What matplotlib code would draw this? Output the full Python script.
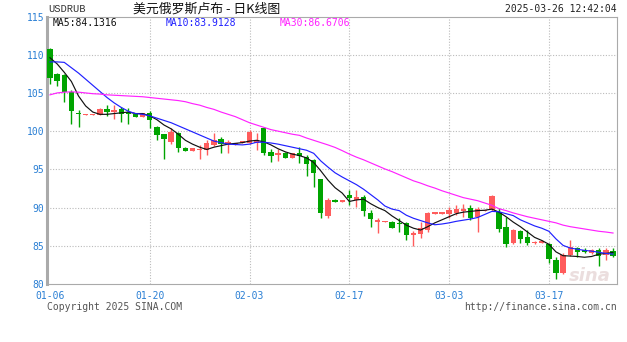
import pandas as pd
import numpy as np
import matplotlib.pyplot as plt

# Daily USD/RUB candles, 2025-01-06 .. 2025-03-26 (weekends included)
dates = pd.date_range("2025-01-06", "2025-03-26", freq="D")

opens = [110.7, 107.45, 107.3, 105.15, 102.4, 102.15, 102.15, 102.1, 102.95, 102.5,
         102.85, 102.5, 102.3, 101.85, 102.4, 100.5, 99.6, 98.6, 99.7, 97.75,
         97.45, 97.5, 97.5, 98.2, 99.0, 98.3, 98.2, 98.5, 98.5, 98.5,
         100.35, 97.3, 96.9, 97.2, 96.55, 97.2, 96.6, 96.2, 93.7, 88.9,
         91.05, 90.75, 91.7, 91.0, 91.4, 89.3, 88.15, 88.1, 88.1, 88.0,
         88.0, 86.4, 86.6, 87.05, 89.1, 89.2, 89.15, 89.3, 89.5, 90.0,
         88.8, 89.5, 89.65, 89.45, 87.4, 85.3, 86.95, 86.1, 85.3, 85.3,
         85.25, 83.2, 81.4, 83.8, 84.65, 84.5, 84.1, 84.4, 83.8, 84.35]
highs = [110.9, 107.55, 107.5, 105.35, 102.75, 102.2, 102.2, 103.0, 103.4, 103.4,
         103.2, 103.0, 102.35, 102.4, 102.6, 100.65, 99.65, 100.35, 99.9, 97.9,
         97.75, 98.2, 98.8, 99.8, 99.25, 98.8, 98.5, 98.6, 100.2, 99.8,
         100.6, 97.7, 97.7, 97.3, 97.1, 97.9, 96.9, 96.4, 93.8, 91.2,
         91.1, 91.05, 92.3, 92.3, 91.7, 89.7, 88.6, 88.3, 88.2, 88.6,
         88.15, 86.9, 88.15, 89.45, 89.45, 89.45, 90.1, 90.3, 90.5, 90.4,
         90.1, 89.7, 91.6, 89.9, 88.8, 87.2, 87.1, 87.05, 85.6, 85.7,
         85.4, 83.5, 84.0, 85.75, 84.9, 84.7, 84.6, 84.65, 84.75, 84.75]
lows = [106.2, 105.9, 103.75, 101.0, 100.55, 102.15, 102.15, 102.1, 101.95, 101.65,
        101.2, 101.0, 101.85, 101.85, 100.35, 98.8, 96.3, 98.3, 97.3, 97.4,
        97.45, 96.3, 96.9, 98.0, 97.1, 97.1, 98.2, 98.5, 98.3, 97.5,
        96.9, 96.0, 96.1, 96.5, 96.55, 95.8, 94.1, 92.7, 88.6, 88.7,
        90.75, 90.75, 90.3, 90.1, 88.9, 87.5, 86.7, 88.1, 87.3, 86.8,
        85.75, 84.95, 86.0, 86.85, 89.1, 89.2, 88.6, 89.0, 88.8, 88.4,
        86.8, 89.5, 89.6, 86.85, 84.8, 85.2, 85.3, 85.1, 85.25, 85.3,
        82.8, 80.7, 81.3, 83.65, 83.5, 84.0, 83.9, 82.4, 83.2, 83.55]
closes = [106.9, 106.6, 105.15, 102.65, 102.2, 102.2, 102.2, 102.85, 102.5, 102.75,
          102.2, 102.3, 101.85, 102.4, 101.45, 99.5, 99.0, 99.9, 97.75, 97.45,
          97.75, 97.6, 98.4, 98.8, 98.3, 98.6, 98.5, 98.6, 99.9, 98.8,
          97.2, 96.8, 97.2, 96.55, 97.1, 96.7, 95.7, 94.5, 89.3, 91.0,
          90.75, 91.05, 91.3, 91.4, 89.5, 88.45, 88.35, 88.3, 87.3, 87.8,
          86.4, 86.7, 87.3, 89.3, 89.45, 89.45, 89.65, 89.75, 89.8, 88.7,
          89.75, 89.65, 91.5, 87.15, 85.2, 87.05, 85.95, 85.4, 85.55, 85.65,
          83.25, 81.4, 83.8, 84.8, 84.2, 84.2, 84.5, 83.65, 84.5, 83.65]

# Moving averages as shown on the chart
ma5 = [109.6, 108.8, 107.7, 106.5, 104.6, 103.3, 102.5, 102.2, 102.2, 102.3,
       102.4, 102.5, 102.3, 102.3, 102.0, 101.5, 100.8, 100.3, 99.6, 98.8,
       98.3, 97.9, 97.6, 97.9, 98.1, 98.3, 98.4, 98.5, 98.7, 98.8,
       98.6, 98.2, 97.7, 97.3, 97.0, 96.8, 96.5, 95.9, 94.8, 93.6,
       92.6, 91.9, 90.8, 91.0, 91.1, 90.5, 90.0, 89.6, 88.9, 88.3,
       87.7, 87.3, 87.06, 87.5, 88.0, 88.4, 88.8, 89.2, 89.4, 89.5,
       89.6, 89.65, 89.8, 89.4, 88.8, 88.1, 87.5, 86.8, 86.1, 85.7,
       85.2, 84.2, 83.7, 83.66, 83.6, 83.5, 83.6, 83.9, 84.0, 84.1316]
ma10 = [109.06, 109.06, 109.0, 108.3, 107.6, 106.8, 106.0, 105.2, 104.4, 103.7,
        103.1, 102.6, 102.3, 102.2, 102.0, 101.7, 101.4, 101.1, 100.7, 100.3,
        99.9, 99.5, 99.1, 98.7, 98.5, 98.3, 98.25, 98.2, 98.3, 98.55,
        98.55, 98.45, 98.3, 98.1, 97.9, 97.7, 97.5, 97.1, 96.1, 95.3,
        94.55, 94.0, 93.5, 93.0, 92.4, 91.7, 91.0, 90.2, 89.8, 89.6,
        89.0, 88.6, 88.3, 88.0, 87.75, 87.85, 88.0, 88.2, 88.35, 88.5,
        88.7, 89.1, 89.5, 89.45, 89.2, 88.95, 88.4, 88.0, 87.6, 87.3,
        86.9, 85.9, 85.05, 84.7, 84.55, 84.4, 84.3, 84.15, 84.0, 83.9128]
ma30 = [104.75, 105.0, 105.1, 105.14, 105.1, 105.0, 104.9, 104.85, 104.75, 104.7,
        104.65, 104.6, 104.55, 104.5, 104.4, 104.3, 104.2, 104.1, 104.0, 103.85,
        103.6, 103.4, 103.1, 102.85, 102.5, 102.2, 101.9, 101.5, 101.1, 100.8,
        100.5, 100.2, 100.0, 99.8, 99.6, 99.45, 99.1, 98.8, 98.5, 98.2,
        97.87, 97.45, 97.0, 96.6, 96.25, 95.85, 95.45, 95.05, 94.7, 94.3,
        93.9, 93.5, 93.2, 92.85, 92.55, 92.2, 91.9, 91.6, 91.3, 91.1,
        90.9, 90.6, 90.3, 89.85, 89.6, 89.3, 89.05, 88.8, 88.6, 88.4,
        88.2, 88.0, 87.7, 87.5, 87.35, 87.2, 87.05, 86.9, 86.8, 86.6706]

tick_labels = ["01-06", "01-20", "02-03", "02-17", "03-03", "03-17"]
y_ticks = [80, 85, 90, 95, 100, 105, 110, 115]

df = pd.DataFrame({"open": opens, "high": highs, "low": lows, "close": closes,
                   "ma5": ma5, "ma10": ma10, "ma30": ma30}, index=dates)

UP = "#ff5c5c"
DOWN = "#00a400"
LABEL_BLUE = "#2a7fd4"
MONO = "DejaVu Sans Mono"

fig = plt.figure(figsize=(6.27, 3.42), dpi=100)
ax = fig.add_axes([47 / 627, 1 - 284 / 342, 570 / 627, (284 - 16.5) / 342])

x = np.arange(len(df))
up = df["close"] >= df["open"]
colors = np.where(up, UP, DOWN)

# wicks, then bodies
ax.vlines(x, df["low"], df["high"], colors=colors, linewidth=1.0, zorder=2)
body_bottom = np.minimum(df["open"], df["close"])
body_height = np.maximum((df["close"] - df["open"]).abs(), 0.15)
ax.bar(x, body_height, bottom=body_bottom, width=0.75, color=colors,
       linewidth=0, zorder=3)

ax.plot(x, df["ma5"], color="#111111", lw=0.85, zorder=4)
ax.plot(x, df["ma10"], color="#2020ff", lw=0.85, zorder=4)
ax.plot(x, df["ma30"], color="#ff22ff", lw=0.85, zorder=4)

ax.set_xlim(-0.42, len(df) - 1 + 0.56)
ax.set_ylim(80, 115)

# grid
labels_str = list(df.index.strftime("%m-%d"))
tick_pos = [labels_str.index(t) for t in tick_labels]
for p in tick_pos[1:]:
    ax.axvline(p, color="#bbbbbb", lw=0.8, ls=(0, (1, 1.5)), zorder=1)
for v in y_ticks[1:-1]:
    ax.axhline(v, color="#bbbbbb", lw=0.8, ls=(0, (1, 1.5)), zorder=1)

ax.set_xticks(tick_pos)
ax.set_xticklabels(tick_labels, family=MONO, fontsize=7, color=LABEL_BLUE)
ax.set_yticks(y_ticks)
ax.set_yticklabels([str(v) for v in y_ticks], family=MONO, fontsize=7,
                   color=LABEL_BLUE)
ax.tick_params(axis="y", length=0, pad=2)
ax.tick_params(axis="x", length=0, pad=5)

for side in ["top", "right", "bottom"]:
    ax.spines[side].set_color("#aaaaaa")
    ax.spines[side].set_linewidth(0.8)
ax.spines["left"].set_color("#aaaaaa")
ax.spines["left"].set_linewidth(2.2)

# header
fig.text(48 / 627, 1 - 9.5 / 342, "USDRUB", family="Liberation Mono", fontsize=7.5,
         color="#333333", va="center", ha="left")
fig.text(133 / 627, 1 - 9 / 342, "美元俄罗斯卢布 - 日K线图",
         family=["Noto Sans CJK SC", "DejaVu Sans"], fontsize=9.3,
         color="#111111", va="center", ha="left")
fig.text(617 / 627, 1 - 9 / 342, "2025-03-26 12:42:04", family=MONO, fontsize=7,
         color="#222222", va="center", ha="right")

# moving average readout
fig.text(53 / 627, 1 - 22.5 / 342, f"MA5:{ma5[-1]:.4f}",
         family=MONO, fontsize=7, color="#111111", va="center")
fig.text(166 / 627, 1 - 22.5 / 342, f"MA10:{ma10[-1]:.4f}",
         family=MONO, fontsize=7, color="#2020ff", va="center")
fig.text(280 / 627, 1 - 22.5 / 342, f"MA30:{ma30[-1]:.4f}",
         family=MONO, fontsize=7, color="#ff22ff", va="center")

# footer
fig.text(47 / 627, 1 - 307 / 342, "Copyright 2025 SINA.COM", family=MONO, fontsize=7,
         color="#555555", va="center", ha="left")
fig.text(617 / 627, 1 - 307 / 342, "http://finance.sina.com.cn", family=MONO,
         fontsize=7, color="#555555", va="center", ha="right")

# watermark
fig.text(590 / 627, 1 - 276 / 342, "sina", fontsize=13, style="italic",
         weight="bold", color="#e6d6d6", alpha=0.8, ha="center", va="center",
         zorder=0)

plt.savefig("out.png", dpi=100)
